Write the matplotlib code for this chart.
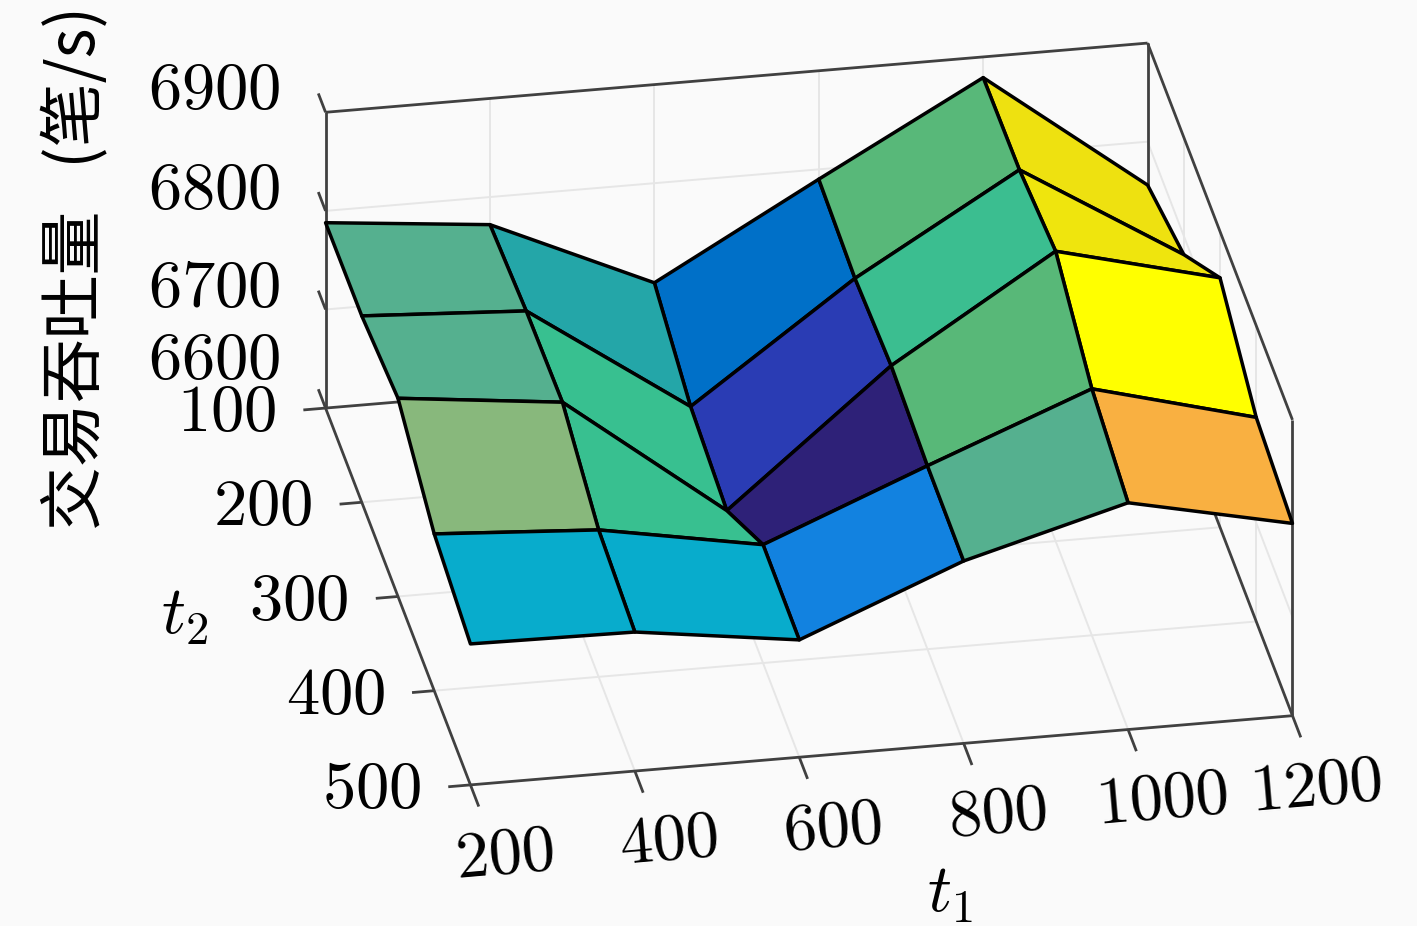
import numpy as np
import matplotlib
matplotlib.use('Agg')
import matplotlib.pyplot as plt
from matplotlib.colors import LinearSegmentedColormap, Normalize
from mpl_toolkits.mplot3d import proj3d

plt.rcParams['mathtext.fontset'] = 'cm'

t1 = [200, 400, 600, 800, 1000, 1200]
t2 = [100, 200, 300, 400, 500]
z_ticks = [6600, 6700, 6800, 6900]
throughput = [
    [6788, 6772, 6699, 6790, 6879, 6756],
    [6789, 6780, 6669, 6785, 6881, 6781],
    [6801, 6783, 6659, 6792, 6894, 6853],
    [6759, 6749, 6720, 6786, 6850, 6807],
    [6743, 6741, 6719, 6785, 6830, 6795],
]

# colour scale
cmap_z = [6659, 6669, 6699, 6720, 6749, 6759, 6772, 6780, 6785, 6786, 6789, 6790, 6792,
          6801, 6850, 6880, 6894]
cmap_colors = ['#2e2178', '#2a3cb5', '#0070c8', '#1282e0', '#08accc', '#08accc', '#24a6a8',
               '#38c090', '#38c090', '#55b08f', '#55b08f', '#58b878', '#58b878',
               '#88b87c', '#f9b041', '#eee30e', '#ffff00']

BG = '#fafafa'
AXIS = '#404040'
GRID = '#e6e6e6'

norm = Normalize(cmap_z[0], cmap_z[-1])
cmap = LinearSegmentedColormap.from_list(
    'faces', [(norm(z), c) for z, c in zip(cmap_z, cmap_colors)], N=1024)

fig = plt.figure(figsize=(14.17, 9.26), dpi=100, facecolor=BG)
ax = fig.add_axes([88 / 1417, 36.5 / 926, 1, 1], projection='3d', computed_zorder=False)
ax.set_proj_type('ortho')
ax.view_init(elev=27.9, azim=-100.2)
ax.set_box_aspect((836, 819, 335), zoom=1.275)
ax.set_xlim(t1[0], t1[-1], view_margin=0)
ax.set_ylim(t2[-1], t2[0], view_margin=0)
ax.set_zlim(z_ticks[0], z_ticks[-1], view_margin=0)
ax.set_axis_off()
ax.patch.set_visible(False)

x0, x1 = t1[0], t1[-1]
y0, y1 = t2[0], t2[-1]
z0, z1 = z_ticks[0], z_ticks[-1]


def line(xs, ys, zs, color=AXIS, lw=2.0, zorder=2):
    ax.plot(xs, ys, zs, color=color, lw=lw, zorder=zorder, solid_capstyle='butt', clip_on=False)


def label(x, y, z, s, **kw):
    # plain 2D text at the projected data position
    a, b, _ = proj3d.proj_transform(x, y, z, ax.get_proj())
    ax.text2D(a, b, s, transform=ax.transData, fontsize=FS, color='black', va='center', **kw)


# grid on floor and back walls
for x in t1[1:-1]:
    line([x, x], [y0, y1], [z0, z0], GRID, 1.4, 1)
    line([x, x], [y0, y0], [z0, z1], GRID, 1.4, 1)
for y in t2[1:-1]:
    line([x0, x1], [y, y], [z0, z0], GRID, 1.4, 1)
    line([x1, x1], [y, y], [z0, z1], GRID, 1.4, 1)
for z in z_ticks[1:-1]:
    line([x0, x1], [y0, y0], [z, z], GRID, 1.4, 1)
    line([x1, x1], [y0, y1], [z, z], GRID, 1.4, 1)

# box edges
line([x0, x0], [y0, y0], [z0, z1])
line([x0, x1], [y0, y0], [z1, z1])
line([x1, x1], [y0, y0], [z0, z1])
line([x1, x1], [y0, y1], [z1, z1])
line([x1, x1], [y1, y1], [z0, z1])
line([x0, x0], [y0, y1], [z0, z0])
line([x0, x1], [y1, y1], [z0, z0])
line([x1, x1], [y0, y1], [z0, z0])
line([x0, x1], [y0, y0], [z0, z0])

# ticks
for x in t1:
    line([x, x], [y1, y1 + 23], [z0, z0])
for y in t2:
    line([x0, x0 - 27], [y, y], [z0, z0])
for z in z_ticks:
    line([x0, x0], [y0, y0 - 20], [z, z])

X, Y = np.meshgrid(t1, t2)
Z = np.array(throughput, dtype=float)
surf = ax.plot_surface(X, Y, Z, facecolors=cmap(norm(Z)), rstride=1, cstride=1, shade=False,
                       edgecolor='black', linewidth=2.5, antialiased=True, zorder=3)
surf.set_clip_on(False)

FS = 48
for x in t1:
    # last label sits a little closer in, as in the original
    dx = -4 if x == t1[-1] else 8
    label(x + dx, y1 + 75, z0, f'${x}$', ha='center', rotation=5, rotation_mode='anchor')
for y in t2:
    label(x0 - 60, y, z0, f'${y}$', ha='right')
z_label_shift = [53, 26, 25, 26]
for z, dz in zip(z_ticks, z_label_shift):
    label(x0 - 55, y0, z + dz, f'${z}$', ha='right')

fig.text(950 / 1417, 1 - 893 / 926, r'$t_1$', fontsize=FS, ha='center', va='center')
fig.text(185 / 1417, 1 - 615 / 926, r'$t_2$', fontsize=FS, ha='center', va='center')
fig.text(77 / 1417, 1 - 530 / 926, '交易吞吐量   (笔/s)', fontsize=46, rotation=90,
         ha='center', va='bottom', family=['Noto Sans CJK SC', 'DejaVu Sans'], color='black')

fig.savefig('out.png', dpi=100, facecolor=BG)
